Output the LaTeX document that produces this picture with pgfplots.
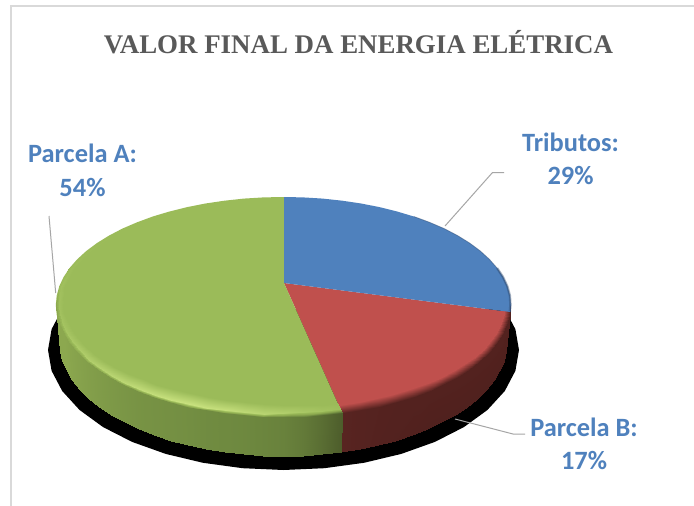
\documentclass[border=0pt]{standalone}
\usepackage{pgfplots}
\pgfplotsset{compat=1.18}
\usepackage{fontspec}
\setmainfont{Carlito}
\newfontfamily\titlefont{Liberation Serif}
\definecolor{lbl}{HTML}{4F81BD}
\definecolor{ttl}{HTML}{595959}
\definecolor{ldr}{HTML}{A6A6A6}
\pgfplotsset{
 colormap={gr}{rgb255(0pt)=(75,90,42) rgb255(30pt)=(111,138,64) rgb255(50pt)=(140,168,79) rgb255(70pt)=(155,187,89) rgb255(100pt)=(201,226,127)},
 colormap={rd}{rgb255(0pt)=(74,30,27) rgb255(100pt)=(192,80,77)},
}
\begin{document}
\begin{tikzpicture}
\begin{axis}[width=694pt,height=506pt,scale only axis,xmin=0,xmax=694,ymin=0,ymax=506,y dir=reverse,hide axis,clip=true,point meta min=0,point meta max=1]
% page background
\addplot[fill=white,draw=none] coordinates {(0,0)(694,0)(694,506)(0,506)} -- cycle;
% border
\addplot[color=black!15,line width=1.2pt] coordinates {(11,506)(11,6)(694,6)};
% shadow
\addplot[fill=black,draw=none] coordinates {(504.8,309)(515.4,329.2)(519,350)(515.4,370.8)(504.8,391)(487.4,410)(463.9,427.1)(434.9,441.9)(401.3,453.9)(364,462.8)(324.4,468.2)(283.5,470)(242.6,468.2)(203,462.8)(165.7,453.9)(132.1,441.9)(103.1,427.1)(79.6,410)(62.2,391)(51.6,370.8)(48,350)(51.6,329.2)(62.2,309)} -- cycle;
% red face (17%)
\addplot[fill={rgb,255:red,192;green,80;blue,77},draw=none] coordinates {(284,283)(510.4,312)(509.9,314.8)(507.3,324.4)(503,334)(497.1,343.3)(489.5,352.3)(480.3,361)(469.7,369.2)(457.6,377)(444.2,384.2)(429.5,390.8)(413.8,396.8)(397.1,402)(379.4,406.5)(361.1,410.2)(342.2,413.2)} -- cycle;
% green face (54%)
\addplot[fill={rgb,255:red,155;green,187;blue,89},draw=none] coordinates {(284,283)(342.2,413.2)(322.8,415.3)(303.1,416.6)(283.3,417)(263.5,416.6)(243.8,415.3)(224.4,413.2)(205.5,410.2)(187.2,406.5)(169.5,402)(152.8,396.8)(137.1,390.8)(122.4,384.2)(109,377)(96.9,369.2)(86.3,361)(77.1,352.3)(69.5,343.3)(63.6,334)(59.3,324.4)(56.7,314.8)(55.8,305)(56.7,295.6)(59.3,286.2)(63.6,277)(69.5,268.1)(77.1,259.4)(86.3,251)(96.9,243.1)(109,235.6)(122.4,228.6)(137.1,222.3)(152.8,216.5)(169.5,211.5)(187.2,207.1)(205.5,203.5)(224.4,200.7)(243.8,198.6)(263.5,197.4)(283.3,197)(284,197)} -- cycle;
% red wall and bevel
\addplot[surf,shader=interp,colormap name=rd,mesh/rows=3,mesh/cols=16,point meta=explicit] table[x=x,y=y,meta=c] {
x y c
507 341 .05
506.1 351 .05
503.6 361 .05
499.4 370.8 .05
493.5 380.3 .05
486 389.6 .05
477 398.5 .05
466.5 407 .05
454.6 414.9 .05
441.4 422.3 .05
427 429.1 .05
411.5 435.2 .06
395 440.6 .07
377.7 445.2 .08
359.6 449.1 .1
341 452.1 .12
510.8 305 .08
509.9 314.8 .08
507.3 324.4 .08
503 334 .08
497.1 343.3 .08
489.5 352.3 .08
480.3 361 .08
469.7 369.2 .08
457.6 377 .08
444.2 384.2 .08
429.5 390.8 .08
413.8 396.8 .08
397.1 402 .08
379.4 406.5 .09
361.1 410.2 .1
342.2 413.2 .12
504.3 305 1
503.5 314 1
500.9 322.9 1
496.8 331.7 1
491 340.2 1
483.6 348.5 1
474.7 356.5 1
464.3 364.1 1
452.6 371.2 1
439.6 377.8 1
425.4 383.9 1
410.1 389.4 1
393.8 394.2 1
376.7 398.3 1
358.9 401.8 1
340.5 404.5 1
};
% green wall and bevel
\addplot[surf,shader=interp,colormap name=gr,mesh/rows=4,mesh/cols=26,point meta=explicit] table[x=x,y=y,meta=c] {
x y c
341 452.1 .02
321.9 454.3 .12
302.5 455.6 .2
283 456 .25
263.5 455.6 .27
244.1 454.3 .29
225 452.1 .3
206.4 449.1 .31
188.3 445.2 .33
171 440.6 .34
154.5 435.2 .35
139 429.1 .36
124.6 422.3 .38
111.4 414.9 .4
99.5 407 .42
89 398.5 .44
80 389.6 .46
72.5 380.3 .48
66.6 370.8 .5
62.4 361 .5
59.9 351 .5
59 341 .5
59.3 286.2 .7
69.5 268.1 .7
86.3 251 .7
122.4 228.6 .7
342.2 413.2 .02
322.8 415.3 .12
303.1 416.6 .2
283.3 417 .25
263.5 416.6 .27
243.8 415.3 .29
224.4 413.2 .3
205.5 410.2 .31
187.2 406.5 .33
169.5 402 .34
152.8 396.8 .35
137.1 390.8 .36
122.4 384.2 .38
109 377 .4
96.9 369.2 .42
86.3 361 .44
77.1 352.3 .46
69.5 343.3 .48
63.6 334 .5
59.3 324.4 .5
56.7 314.8 .5
55.8 305 .5
59.3 286.2 .7
69.5 268.1 .7
86.3 251 .7
122.4 228.6 .7
340.2 408.8 .72
322.2 410.9 .76
302.8 412.1 .8
283.3 412.5 .85
263.8 413.6 .9
244.4 412.4 .93
225.3 410.3 .97
206.7 407.5 .99
188.6 403.9 1
171.3 399.6 .99
154.8 394.6 .97
139.3 388.8 .95
124.9 382.5 .92
111.7 375.6 .9
99.8 368.2 .87
89.3 360.3 .85
80.3 350.4 .82
72.8 341.8 .8
66.9 332.8 .78
62.7 323.7 .76
60.2 314.4 .75
59.3 305 .74
61.5 287 .74
71.2 269.2 .72
87.5 252 .71
123 229.4 .7
338 403.5 .7
321.5 404.5 .7
302.5 405.1 .7
283.3 405 .7
264.1 403.6 .7
245.1 402 .7
226.4 399.5 .7
208.1 396.8 .7
190.3 393.4 .7
173.3 389.3 .7
157.1 384.6 .7
142.9 379.1 .7
128.7 373.6 .7
115.8 367.6 .7
104.1 360.5 .7
93.8 353.5 .7
84.9 346.1 .7
77.6 337.9 .7
71.8 330.4 .7
67.6 321.7 .7
64.1 313.9 .7
63.3 305 .7
64.5 288 .7
73 270.3 .7
89 253 .7
123.6 230 .7
};
% blue face (29%)
\addplot[fill={rgb,255:red,79;green,129;blue,189},draw=none] coordinates {(284,283)(284,197)(303.1,197.4)(322.8,198.6)(342.2,200.7)(361.1,203.5)(379.4,207.1)(397.1,211.5)(413.8,216.5)(429.5,222.3)(444.2,228.6)(457.6,235.6)(469.7,243.1)(480.3,251)(489.5,259.4)(497.1,268.1)(503,277)(507.3,286.2)(509.9,295.6)(510.8,305)(510.4,312)} -- cycle;
% blue dark edge
\addplot[color={rgb,255:red,44;green,72;blue,110},line width=.8pt,opacity=.45] coordinates {(413.8,216.5)(429.5,222.3)(444.2,228.6)(457.6,235.6)(469.7,243.1)(480.3,251)(489.5,259.4)(497.1,268.1)(503,277)(507.3,286.2)(509.9,295.6)(510.8,305)(510.4,312)};
\addplot[color={rgb,255:red,44;green,72;blue,110},line width=2.4pt,opacity=.4] coordinates {(497.1,268.1)(503,277)(507.3,286.2)(509.9,295.6)(510.4,305)(509.8,311.5)};
% leaders
\addplot[color=ldr,line width=1pt] coordinates {(445,226)(492.5,172.5)(504,172.5)};
\addplot[color=ldr,line width=1pt] coordinates {(455,419)(513,434)(525,434)};
\addplot[color=ldr,line width=1pt] coordinates {(49,216)(55.7,293)};
% texts
\node[text=ttl,font=\titlefont\bfseries\fontsize{26.9}{30}\selectfont,anchor=center] at (axis cs:358.5,42) {VALOR FINAL DA ENERGIA ELÉTRICA};
\node[text=lbl,font=\bfseries\fontsize{26.4}{34}\selectfont,align=center] at (axis cs:82.5,170) {Parcela A:\\54\%};
\node[text=lbl,font=\bfseries\fontsize{26.4}{33}\selectfont,align=center] at (axis cs:570.5,159) {Tributos:\\29\%};
\node[text=lbl,font=\bfseries\fontsize{26.4}{33}\selectfont,align=center] at (axis cs:584,444) {Parcela B:\\17\%};
\end{axis}
\end{tikzpicture}
\end{document}
